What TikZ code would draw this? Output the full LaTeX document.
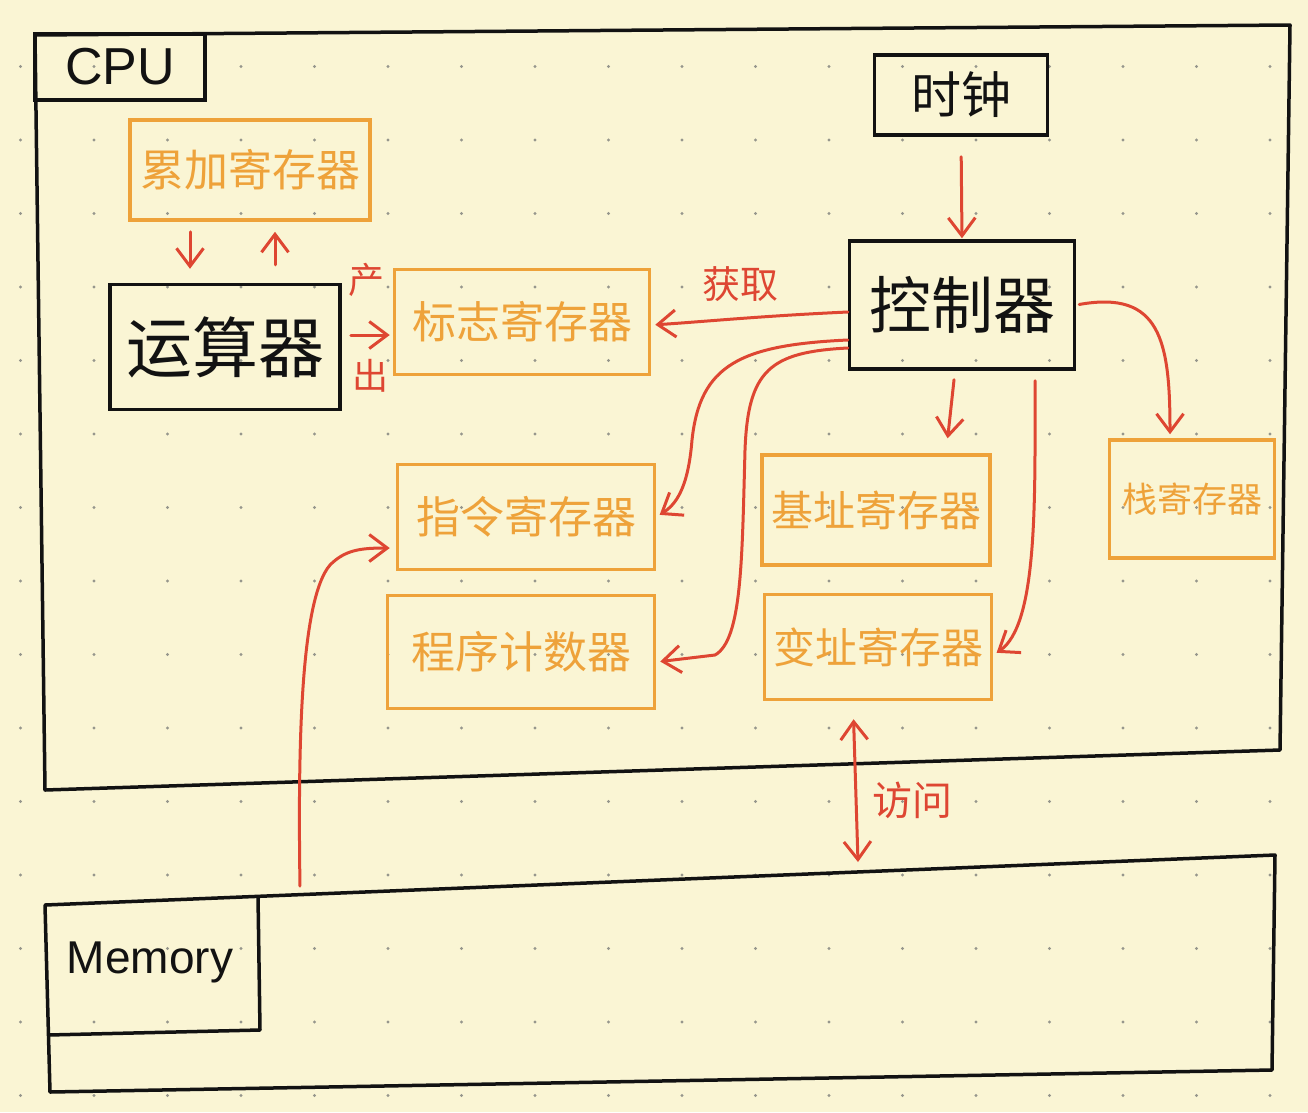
\documentclass[tikz,border=0pt]{standalone}
\usepackage{fontspec}
\setmainfont{Liberation Sans}
\newfontfamily\cjk{Noto Sans CJK SC}
\usetikzlibrary{arrows.meta}
\definecolor{paper}{RGB}{250,245,212}
\definecolor{org}{RGB}{238,162,58}
\definecolor{redc}{RGB}{222,70,50}
\definecolor{ink}{RGB}{18,18,18}
\definecolor{dotc}{RGB}{150,150,140}
\tikzset{rtip/.tip={Straight Barb[length=18pt,width=27pt,line width=3pt]}}
\begin{document}
\begin{tikzpicture}[x=1pt,y=-1pt,
  blk/.style={draw=ink,line width=3.5pt,rectangle,inner sep=0pt,text=ink},
  orb/.style={draw=org,line width=3.5pt,rectangle,inner sep=0pt,text=org,font=\cjk\fontsize{44}{44}\selectfont},
  rlab/.style={text=redc,inner sep=0pt,font=\cjk\fontsize{36}{36}\selectfont},
  arr/.style={draw=redc,line width=3pt,line cap=round,-rtip},
  frame/.style={draw=ink,line width=3.5pt,line join=round}]
\fill[paper] (0,0) rectangle (1308,1112);
\useasboundingbox (0,0) rectangle (1308,1112);
\foreach \i in {0,...,17}{\foreach \j in {0,...,14}{\fill[dotc] (20.5+73.5*\i,66.5+73.5*\j) circle (1.6);}}
% CPU frame
\draw[frame] (35,35) -- (1290,25) -- (1280,750) -- (45,790) -- cycle;
\node[blk,minimum width=170,minimum height=66,font=\fontsize{52}{52}\selectfont] (cpu) at (120,67) {CPU};
% Memory frame
\draw[frame] (45,905) -- (1275,855) -- (1272,1070) -- (50,1092) -- cycle;
\draw[frame] (258,896) -- (260,1030) -- (48,1035);
\node[text=ink,inner sep=0pt,font=\fontsize{46}{46}\selectfont] (mem) at (150,962) {Memory};
\coordinate (memA) at (300,888);
\coordinate (memB) at (858,862);
% boxes
\node[orb,minimum width=240,minimum height=100] (lei) at (250,170) {累加寄存器};
\node[blk,minimum width=230,minimum height=125,font=\cjk\fontsize{66}{66}\selectfont] (yun) at (225,347) {运算器};
\node[orb,minimum width=255,minimum height=105] (biao) at (522,322) {标志寄存器};
\node[blk,minimum width=173,minimum height=80,font=\cjk\fontsize{50}{50}\selectfont] (shi) at (961,95) {时钟};
\node[blk,minimum width=225,minimum height=128,font=\cjk\fontsize{62}{62}\selectfont] (kong) at (962,305) {控制器};
\node[orb,minimum width=257,minimum height=105] (zhi) at (526,517) {指令寄存器};
\node[orb,minimum width=267,minimum height=113] (pc) at (521,652) {程序计数器};
\node[orb,minimum width=228,minimum height=110,font=\cjk\fontsize{42}{42}\selectfont] (ji) at (876,510) {基址寄存器};
\node[orb,minimum width=227,minimum height=105,font=\cjk\fontsize{42}{42}\selectfont] (bian) at (878,647) {变址寄存器};
\node[orb,minimum width=165,minimum height=118,font=\cjk\fontsize{35}{35}\selectfont] (zhan) at (1192,499) {栈寄存器};
% labels
\node[rlab] (chan) at (366,280) {产};
\node[rlab] (chu) at (370,376) {出};
\node[rlab,font=\cjk\fontsize{38}{38}\selectfont] (huo) at (740,284) {获取};
\node[rlab,font=\cjk\fontsize{40}{40}\selectfont] (fang) at (912,800) {访问};
% arrows
\draw[arr,shorten <=10pt,shorten >=14pt] ([xshift=-60pt]lei.south) -- ([xshift=-35pt]yun.north);
\draw[arr,shorten <=18pt,shorten >=10pt] ([xshift=50pt]yun.north) -- ([xshift=25pt]lei.south);
\draw[arr,shorten <=9pt,shorten >=3pt] ([yshift=12pt]yun.east) -- ([yshift=-13pt]biao.west);
\draw[arr,shorten >=4pt] ([yshift=-7pt]kong.west) .. controls (760,316) and (700,322) .. ([yshift=-3pt]biao.east);
\draw[arr,shorten <=20pt,shorten >=1pt] (shi.south) -- (kong.north);
\draw[arr,shorten >=4pt] ([yshift=-35pt]kong.west) .. controls (740,345) and (700,365) .. (692,440) .. controls (688,490) and (675,505) .. (zhi.east);
\draw[arr,shorten >=4pt] ([yshift=-43pt]kong.west) .. controls (770,352) and (748,370) .. (745,450) .. controls (742,560) and (742,640) .. (715,655) -- ([yshift=-10pt]pc.east);
\draw[arr,shorten <=9pt,shorten >=15pt] ([xshift=-7pt]kong.south) -- ([xshift=70pt]ji.north);
\draw[arr,shorten <=10pt,shorten >=4pt] ([xshift=73pt]kong.south) .. controls (1035,500) and (1038,625) .. ([yshift=-8pt]bian.east);
\draw[arr,shorten <=3pt,shorten >=4pt] (kong.east) .. controls (1160,290) and (1170,340) .. ([xshift=-22pt]zhan.north);
\draw[arr,shorten <=2pt,shorten >=6pt] (memA) .. controls (298,750) and (300,600) .. (330,565) .. controls (345,550) and (360,548) .. ([yshift=-31pt]zhi.west);
\draw[arr,rtip-rtip,shorten <=18pt] ([xshift=-25pt]bian.south) -- (memB);
\end{tikzpicture}
\end{document}
